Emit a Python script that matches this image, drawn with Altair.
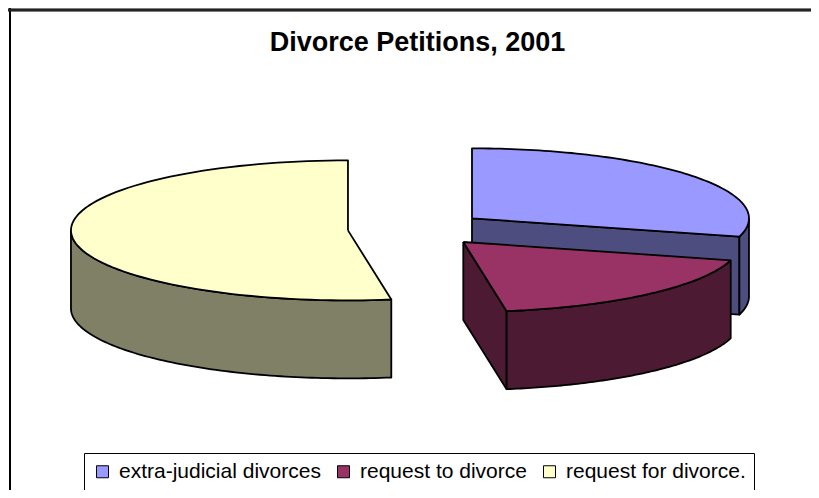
import altair as alt
import pandas as pd

# ---- data ----
categories = ["extra-judicial divorces", "request to divorce", "request for divorce."]
values = [29.2, 18.3, 52.5]

# ---- styles ----
top_colors = ["#9999FF", "#993366", "#FFFFCC"]
side_colors = ["#4D4D80", "#4D1A33", "#808066"]
FONT = "Liberation Sans, Arial, sans-serif"

W, H = 803, 482          # chart size (plot area covers the whole chart)
PX_X, PX_Y = 277, 70     # pixels per unit radius (flattened 3-D pie)
CX, CY = 409, 221        # pie centre inside the chart, px
DEPTH = 78 / 70          # pie thickness in y units
EXPLODE = 0.25           # explosion of every slice, in radii
N = 90                   # arc resolution

xscale = alt.Scale(domain=[-CX / PX_X, (W - CX) / PX_X], nice=False, zero=False)
yscale = alt.Scale(domain=[-(H - CY) / PX_Y, CY / PX_Y], nice=False, zero=False)

df = pd.DataFrame({"category": categories, "value": values, "idx": list(range(len(values)))})

base = (
    alt.Chart(df)
    .transform_window(cum="sum(value)", sort=[alt.SortField("idx")], frame=[None, 0])
    .transform_joinaggregate(total="sum(value)")
    .transform_calculate(a1="2*PI*(datum.cum - datum.value)/datum.total")
    .transform_calculate(a2="2*PI*datum.cum/datum.total")
    .transform_calculate(ox=f"{EXPLODE}*sin((datum.a1 + datum.a2)/2)")
    .transform_calculate(oy=f"{EXPLODE}*cos((datum.a1 + datum.a2)/2)")
)


def encoding(colors, legend, detail="category:N"):
    return dict(
        x=alt.X("px:Q", scale=xscale, axis=None),
        y=alt.Y("py:Q", scale=yscale, axis=None),
        order=alt.Order("k:Q"),
        detail=alt.Detail(detail),
        fill=alt.Fill("category:N",
                      scale=alt.Scale(domain=categories, range=colors),
                      legend=legend),
    )


line_style = dict(stroke="black", strokeWidth=1.8, strokeJoin="round", interpolate="linear")

# visible cut faces of each slice (closed quads)
quads = (
    base
    .transform_calculate(face="[0, 1]")
    .transform_flatten(["face"])
    .transform_calculate(e="datum.face == 0 ? datum.a1 : datum.a2")
    .transform_filter("(datum.face == 0 && sin(datum.e) < -0.01) || (datum.face == 1 && sin(datum.e) > 0.01)")
    .transform_calculate(k="sequence(0, 5)")
    .transform_flatten(["k"])
    .transform_calculate(px="datum.ox + ((datum.k == 1 || datum.k == 2) ? sin(datum.e) : 0)")
    .transform_calculate(py=f"datum.oy + ((datum.k == 1 || datum.k == 2) ? cos(datum.e) : 0) - ((datum.k == 2 || datum.k == 3) ? {DEPTH} : 0)")
    .mark_line(**line_style)
    .encode(**encoding(side_colors, None, detail="face:N"))
)

# front rims (closed bands)
bands = (
    base
    .transform_calculate(b1="max(datum.a1, PI/2)")
    .transform_calculate(b2="min(datum.a2, 3*PI/2)")
    .transform_filter("datum.b2 > datum.b1 + 0.001")
    .transform_calculate(k=f"sequence(0, {2 * N + 3})")
    .transform_flatten(["k"])
    .transform_calculate(ang=f"datum.k <= {N} ? datum.b1 + (datum.b2 - datum.b1)*datum.k/{N} : (datum.k <= {2 * N + 1} ? datum.b2 - (datum.b2 - datum.b1)*(datum.k - {N + 1})/{N} : datum.b1)")
    .transform_calculate(px="datum.ox + sin(datum.ang)")
    .transform_calculate(py=f"datum.oy + cos(datum.ang) - ((datum.k > {N} && datum.k <= {2 * N + 1}) ? {DEPTH} : 0)")
    .mark_line(**line_style)
    .encode(**encoding(side_colors, None))
)

legend = alt.Legend(
    title=None, orient="none", legendX=76, legendY=445, direction="horizontal",
    symbolType="square", symbolSize=144, symbolStrokeColor="black", symbolStrokeWidth=1,
    symbolOpacity=1, labelFont=FONT, labelFontSize=21, labelColor="black", labelLimit=400,
    labelOffset=6, columnPadding=12, padding=8, strokeColor="black", fillColor="white",
)

# top faces (closed wedges)
tops = (
    base
    .transform_calculate(k=f"sequence(0, {N + 3})")
    .transform_flatten(["k"])
    .transform_calculate(ang=f"datum.a1 + (datum.a2 - datum.a1)*(datum.k - 1)/{N}")
    .transform_calculate(px=f"datum.ox + ((datum.k == 0 || datum.k == {N + 2}) ? 0 : sin(datum.ang))")
    .transform_calculate(py=f"datum.oy + ((datum.k == 0 || datum.k == {N + 2}) ? 0 : cos(datum.ang))")
    .mark_line(**line_style)
    .encode(**encoding(top_colors, legend))
)

# chart-area frame (left and top edges)
frame_left = alt.Chart(df).mark_rule(color="black", strokeWidth=2).encode(
    x=alt.value(2), y=alt.value(0), y2=alt.value(H))
frame_top = alt.Chart(df).mark_rule(color="#222222", strokeWidth=2.5).encode(
    y=alt.value(2), x=alt.value(0), x2=alt.value(W))

chart = (
    alt.layer(quads, bands, tops, frame_left, frame_top)
    .resolve_scale(fill="independent")
    .properties(
        width=W, height=H, padding=0,
        autosize=alt.AutoSizeParams(type="none"),
        title=alt.Title("Divorce Petitions, 2001", font=FONT, fontSize=27, fontWeight="bold",
                        color="black", anchor="middle", frame="group", offset=-71,
                        baseline="alphabetic", dx=8),
    )
    .configure_view(stroke=None)
)

chart.save("out.html", embed_options={"renderer": "svg", "actions": False})
